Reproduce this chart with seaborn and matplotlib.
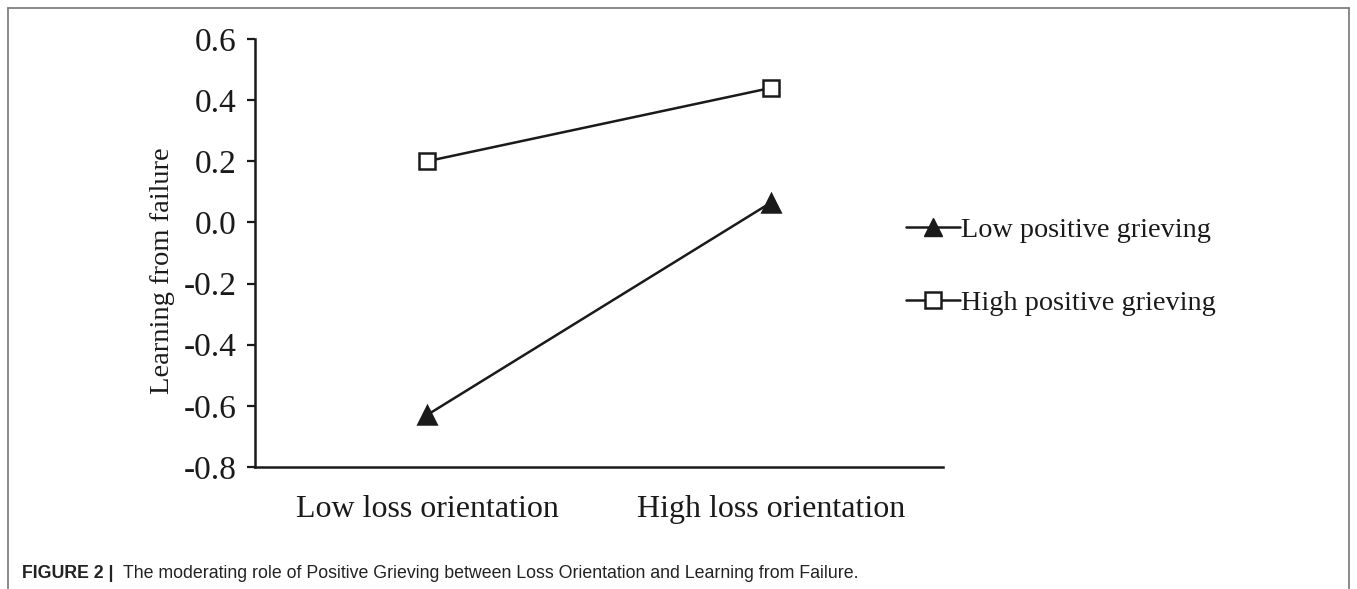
import pandas as pd
import matplotlib.pyplot as plt
import seaborn as sns
from matplotlib.lines import Line2D

# data
orientation = ["Low loss orientation", "High loss orientation"]
low_grieving = [-0.63, 0.065]
high_grieving = [0.20, 0.44]
series_names = ["Low positive grieving", "High positive grieving"]
y_ticks = [0.6, 0.4, 0.2, 0.0, -0.2, -0.4, -0.6, -0.8]

df = pd.DataFrame(
    {
        "orientation": orientation * 2,
        "value": low_grieving + high_grieving,
        "group": [series_names[0]] * 2 + [series_names[1]] * 2,
    }
)

sns.set_style("white")
plt.rcParams["font.family"] = ["Liberation Serif", "DejaVu Serif"]

fig = plt.figure(figsize=(13.57, 5.89), dpi=100)
ax = fig.add_axes([0.1879, 0.2071, 0.5070, 0.7267])

sns.lineplot(
    data=df,
    x="orientation",
    y="value",
    hue="group",
    style="group",
    palette=["#1a1a1a", "#1a1a1a"],
    markers={series_names[0]: "^", series_names[1]: "s"},
    dashes=False,
    linewidth=1.8,
    markersize=12,
    ax=ax,
    legend=False,
)

# hollow squares for the high group
for line in ax.lines:
    line.set_markeredgewidth(1.8)
    line.set_markeredgecolor("#1a1a1a")
ax.lines[0].set_markerfacecolor("#1a1a1a")
ax.lines[0].set_markersize(13)
ax.lines[1].set_markerfacecolor("white")
ax.lines[1].set_markersize(11)

ax.set_xlim(-0.5, 1.5)
ax.set_ylim(-0.8, 0.6)
ax.set_yticks(y_ticks)
ax.set_yticklabels([f"{t:.1f}" for t in y_ticks])
ax.tick_params(axis="y", direction="out", length=6, width=1.6, labelsize=24,
               left=True, pad=7, colors="#1a1a1a")
ax.tick_params(axis="x", length=0, labelsize=23, pad=20, colors="#1a1a1a")
ax.set_xlabel("")
ax.set_ylabel("Learning from failure", fontsize=20.5, color="#1a1a1a")
ax.yaxis.set_label_coords(-0.116, 0.458)

for side in ["top", "right"]:
    ax.spines[side].set_visible(False)
for side in ["left", "bottom"]:
    ax.spines[side].set_linewidth(1.8)
    ax.spines[side].set_color("#1a1a1a")

handles = [
    Line2D([], [], color="#1a1a1a", lw=1.8, marker="^", markersize=13,
           markerfacecolor="#1a1a1a", markeredgecolor="#1a1a1a"),
    Line2D([], [], color="#1a1a1a", lw=1.8, marker="s", markersize=11,
           markerfacecolor="white", markeredgecolor="#1a1a1a", markeredgewidth=1.8),
]
fig.legend(
    handles,
    series_names,
    loc="upper left",
    bbox_to_anchor=(0.649, 0.675),
    frameon=False,
    fontsize=20.3,
    handlelength=1.9,
    handletextpad=0.05,
    labelspacing=1.7,
    labelcolor="#1a1a1a",
)

# outer figure frame (open at the bottom)
frame_kw = dict(color="#777777", lw=1.2, transform=fig.transFigure)
fig.add_artist(Line2D([8 / 1357, 1349 / 1357], [1 - 8 / 589, 1 - 8 / 589], **frame_kw))
fig.add_artist(Line2D([8 / 1357, 8 / 1357], [0, 1 - 8 / 589], **frame_kw))
fig.add_artist(Line2D([1349 / 1357, 1349 / 1357], [0, 1 - 8 / 589], **frame_kw))

# caption
fig.text(22 / 1357, 1 - 573 / 589, "FIGURE 2 |", fontsize=12.8, fontweight="bold",
         family=["Liberation Sans"], va="center", color="#222222")
fig.text(123 / 1357, 1 - 573 / 589,
         "The moderating role of Positive Grieving between Loss Orientation and Learning from Failure.",
         fontsize=12.8, family=["Liberation Sans"], va="center", color="#222222")

fig.savefig("out.png", dpi=100)
